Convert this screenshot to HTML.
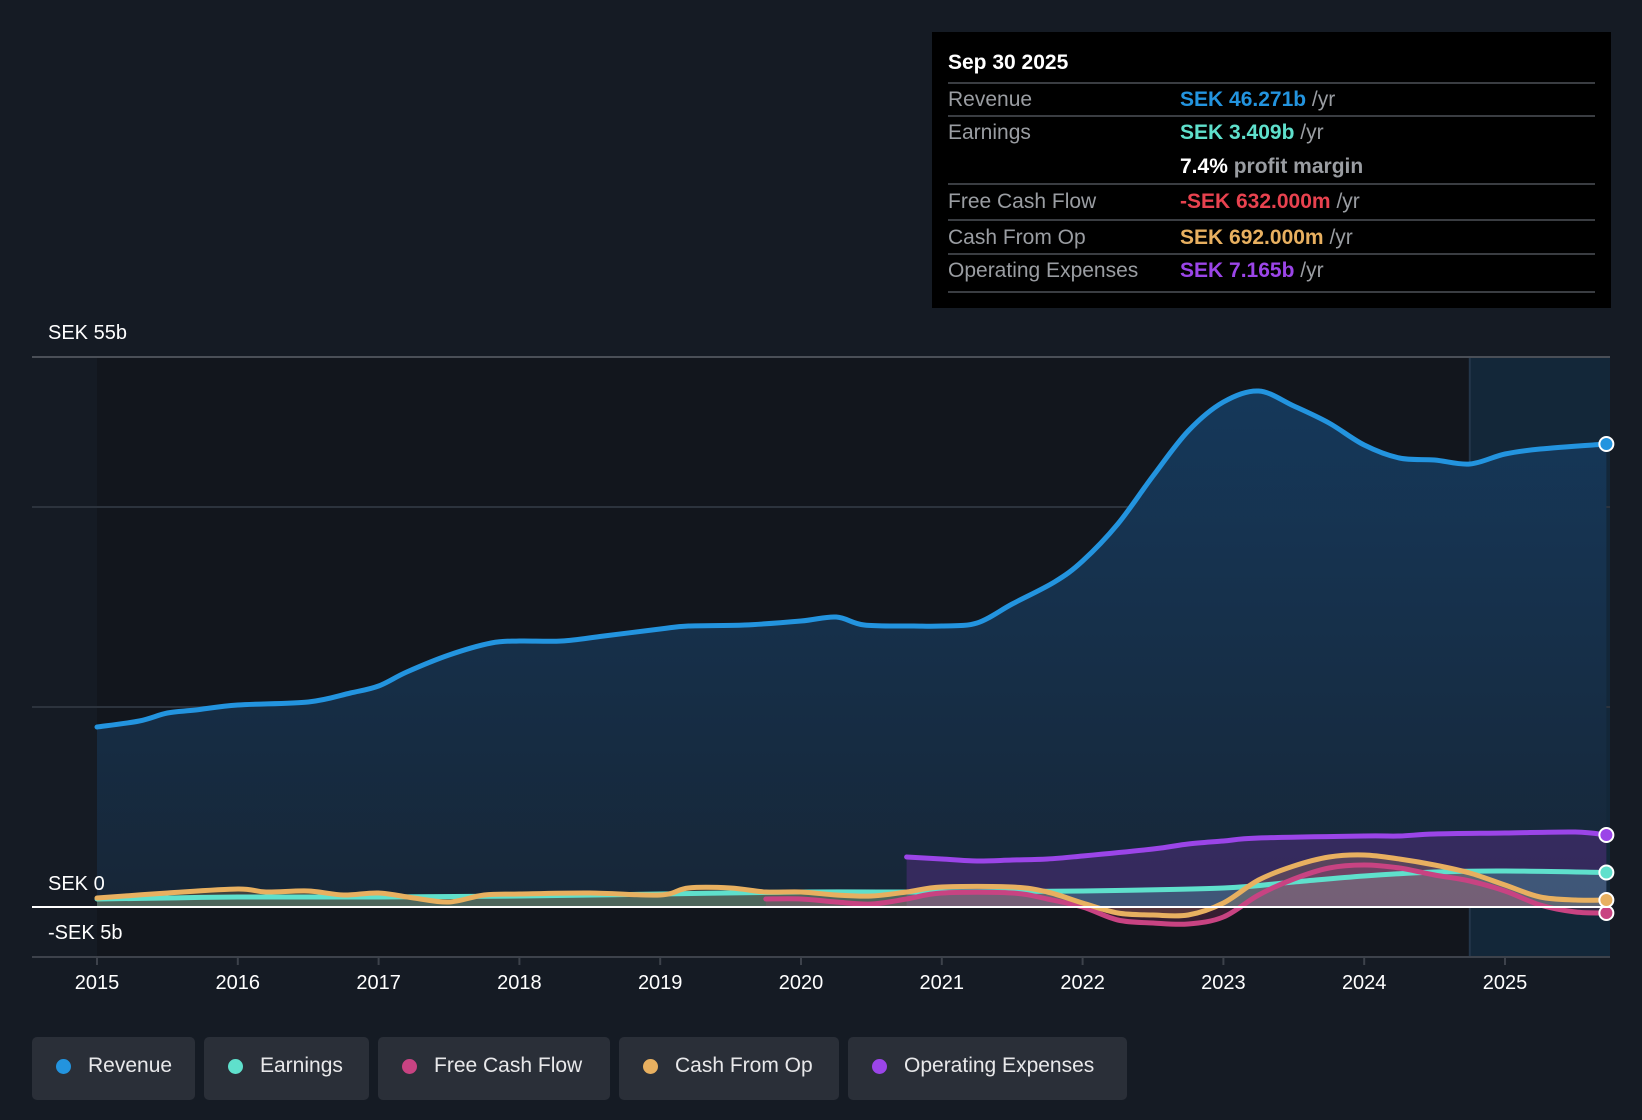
<!DOCTYPE html>
<html><head><meta charset="utf-8"><style>
html,body{margin:0;padding:0;background:#151b24;}
body{width:1642px;height:1120px;overflow:hidden;position:relative;font-family:"Liberation Sans",sans-serif;}
svg{position:absolute;left:0;top:0}
.tip{position:absolute;left:932px;top:32px;width:679px;height:276px;background:#000;}
.tip .row{position:absolute;left:16px;width:647px;border-top:2px solid #3a3d42;font-size:21px;color:#9a9da2;}
.lg{position:absolute;top:1037px;height:63px;background:#2a2f38;border-radius:5px;color:#e8e8ea;font-size:21px;line-height:58px;box-sizing:border-box;padding-left:56px}
.lg i{position:absolute;left:24px;top:22px;width:15px;height:15px;border-radius:50%}
</style></head><body>
<svg width="1642" height="1120" id="chart"></svg>
<div class="tip">
 <div style="position:absolute;left:16px;top:19px;color:#fff;font-size:21px;font-weight:bold">Sep 30 2025</div>
 <div class="row" style="top:50px;height:32px;line-height:32px"><span style="position:absolute;left:0">Revenue</span><span style="position:absolute;left:232px;color:#2394df;font-weight:bold">SEK 46.271b <span style="color:#9a9da2;font-weight:normal">/yr</span></span></div>
 <div class="row" style="top:83px;height:66px;line-height:32px"><span style="position:absolute;left:0">Earnings</span><span style="position:absolute;left:232px;color:#5fe0cc;font-weight:bold">SEK 3.409b <span style="color:#9a9da2;font-weight:normal">/yr</span></span><span style="position:absolute;left:232px;top:34px;color:#fff;font-weight:bold">7.4% <span style="color:#9a9da2">profit margin</span></span></div>
 <div class="row" style="top:151px;height:34px;line-height:34px"><span style="position:absolute;left:0">Free Cash Flow</span><span style="position:absolute;left:232px;color:#e8424f;font-weight:bold">-SEK 632.000m <span style="color:#9a9da2;font-weight:normal">/yr</span></span></div>
 <div class="row" style="top:187px;height:32px;line-height:34px"><span style="position:absolute;left:0">Cash From Op</span><span style="position:absolute;left:232px;color:#e8b060;font-weight:bold">SEK 692.000m <span style="color:#9a9da2;font-weight:normal">/yr</span></span></div>
 <div class="row" style="top:221px;height:36px;line-height:32px;border-bottom:2px solid #3a3d42"><span style="position:absolute;left:0">Operating Expenses</span><span style="position:absolute;left:232px;color:#9b45e8;font-weight:bold">SEK 7.165b <span style="color:#9a9da2;font-weight:normal">/yr</span></span></div>
</div>
<div class="lg" style="left:32px;width:163px"><i style="background:#2394df"></i>Revenue</div>
<div class="lg" style="left:204px;width:165px"><i style="background:#5fe0cc"></i>Earnings</div>
<div class="lg" style="left:378px;width:232px"><i style="background:#c84382"></i>Free Cash Flow</div>
<div class="lg" style="left:619px;width:220px"><i style="background:#e8b060"></i>Cash From Op</div>
<div class="lg" style="left:848px;width:279px"><i style="background:#9b45e8"></i>Operating Expenses</div>
<script>
const revX=[2015,2015.3,2015.5,2015.7,2016,2016.5,2016.8,2017,2017.2,2017.5,2017.8,2018,2018.3,2018.6,2019,2019.2,2019.6,2020,2020.25,2020.45,2020.8,2021,2021.25,2021.5,2021.8,2022,2022.25,2022.5,2022.75,2023,2023.25,2023.5,2023.75,2024,2024.25,2024.5,2024.75,2025,2025.25,2025.72];
const revY=[18.0,18.6,19.4,19.7,20.2,20.5,21.4,22.1,23.5,25.2,26.4,26.6,26.6,27.1,27.8,28.1,28.2,28.6,29.0,28.2,28.1,28.1,28.4,30.3,32.5,34.6,38.3,43.1,47.6,50.5,51.6,50.1,48.4,46.2,44.9,44.7,44.3,45.3,45.8,46.3];
const earnX=[2015,2015.5,2016,2017,2018,2019,2020,2021,2022,2023,2023.5,2024,2024.5,2025,2025.72];
const earnY=[0.8,0.9,1.0,1.0,1.1,1.3,1.5,1.5,1.6,1.9,2.5,3.1,3.5,3.6,3.45];
const cfoX=[2015,2015.5,2016,2016.2,2016.5,2016.75,2017,2017.25,2017.5,2017.75,2018,2018.5,2019,2019.2,2019.5,2019.75,2020,2020.25,2020.5,2020.75,2021,2021.5,2021.75,2022,2022.25,2022.5,2022.75,2023,2023.25,2023.5,2023.75,2024,2024.25,2024.5,2024.75,2025,2025.25,2025.5,2025.72];
const cfoY=[0.9,1.4,1.8,1.5,1.6,1.2,1.4,0.9,0.5,1.2,1.3,1.4,1.2,1.9,1.9,1.5,1.5,1.2,1.1,1.5,2.0,2.0,1.5,0.4,-0.6,-0.8,-0.8,0.4,2.7,4.1,5.0,5.2,4.8,4.2,3.4,2.2,1.0,0.7,0.7];
const fcfX=[2019.75,2020,2020.25,2020.5,2020.75,2021,2021.5,2021.75,2022,2022.25,2022.5,2022.75,2023,2023.25,2023.5,2023.75,2024,2024.25,2024.5,2024.75,2025,2025.25,2025.5,2025.72];
const fcfY=[0.8,0.8,0.5,0.3,0.8,1.4,1.4,0.8,0,-1.3,-1.6,-1.7,-1.0,1.2,2.8,3.9,4.2,3.9,3.2,2.6,1.6,0.2,-0.5,-0.6];
const opxX=[2020.75,2021,2021.25,2021.5,2021.75,2022,2022.5,2022.75,2023,2023.25,2024,2024.25,2024.5,2025,2025.5,2025.72];
const opxY=[5.0,4.8,4.6,4.7,4.8,5.1,5.8,6.3,6.6,6.9,7.1,7.1,7.3,7.4,7.5,7.2];
const yTicks=[55,0,-5];const yTickLabels=["SEK 55b","SEK 0","-SEK 5b"];
const grid=[55,40,20];
const years=[2015,2016,2017,2018,2019,2020,2021,2022,2023,2024,2025];

const X=t=>97+(t-2015)*140.8, Y=v=>907-v*10;
const NS='http://www.w3.org/2000/svg', svg=document.getElementById('chart');
function mk(tag,a,parent){const e=document.createElementNS(NS,tag);for(const k in a)e.setAttribute(k,a[k]);(parent||svg).appendChild(e);return e;}
function path(xs,ys){const p=xs.map((x,i)=>[X(x),Y(ys[i])]);let d='M'+p[0][0]+','+p[0][1];
 for(let i=0;i<p.length-1;i++){const p0=p[i-1]||p[i],p1=p[i],p2=p[i+1],p3=p[i+2]||p2;
 d+=' C'+(p1[0]+(p2[0]-p0[0])/6)+','+(p1[1]+(p2[1]-p0[1])/6)+' '+(p2[0]-(p3[0]-p1[0])/6)+','+(p2[1]-(p3[1]-p1[1])/6)+' '+p2[0]+','+p2[1];}return d;}
const defs=mk('defs',{});
defs.innerHTML='<linearGradient id="rg" x1="0" y1="0" x2="0" y2="1"><stop offset="0" stop-color="#15385a"/><stop offset="1" stop-color="#172637"/></linearGradient>';
const xEnd=1610;
const bg=mk('rect',{x:X(2015),y:357,width:xEnd-X(2015),height:600,fill:'#12161d'});

const fc=mk('rect',{x:X(2024.75),y:357,width:xEnd-X(2024.75),height:600,fill:'#142a3e',opacity:0.85});

mk('line',{x1:X(2024.75),x2:X(2024.75),y1:357,y2:957,stroke:'#23364a','stroke-width':2});
grid.forEach(g=>{const l=mk('line',{x1:32,x2:1610,y1:Y(g),y2:Y(g),stroke:g==55?'#4a4f57':'#2c333d','stroke-width':2});
});
function area(xs,ys,fill,op,name){const a=mk('path',{d:path(xs,ys)+' L'+X(xs[xs.length-1])+','+Y(0)+' L'+X(xs[0])+','+Y(0)+'Z',fill:fill,opacity:op});
}
area(revX,revY,'url(#rg)',1,'revenue-area');
area(opxX,opxY,'#5b2f8a',0.45,'opex-area');
area(earnX,earnY,'#5fe0cc',0.25,'earnings-area');
area(cfoX,cfoY,'#e8b060',0.2,'cfo-area');
area(fcfX,fcfY,'#c84382',0.2,'fcf-area');
function line(xs,ys,c,name){const l=mk('path',{d:path(xs,ys),fill:'none',stroke:c,'stroke-width':5,'stroke-linecap':'round'});

const d=mk('circle',{cx:X(xs[xs.length-1]),cy:Y(ys[ys.length-1]),r:7,fill:c,stroke:'#fff','stroke-width':2});
}
line(opxX,opxY,'#9b45e8','opex-line');
line(earnX,earnY,'#5fe0cc','earnings-line');
line(fcfX,fcfY,'#c84382','fcf-line');
line(cfoX,cfoY,'#e8b060','cfo-line');
line(revX,revY,'#2394df','revenue-line');
const z=mk('line',{x1:32,x2:1610,y1:Y(0),y2:Y(0),stroke:'#fff','stroke-width':2});

mk('line',{x1:32,x2:1610,y1:957,y2:957,stroke:'#3d424b','stroke-width':2});
yTicks.forEach((v,i)=>{const yy=v==55?332:v==0?883:932;const t=mk('text',{x:48,y:yy+7,fill:'#fff','font-size':20});t.textContent=yTickLabels[i];
});
years.forEach(yr=>{mk('line',{x1:X(yr),x2:X(yr),y1:957,y2:965,stroke:'#3d424b','stroke-width':2});
const t=mk('text',{x:X(yr),y:989,fill:'#fff','font-size':20,'text-anchor':'middle'});t.textContent=yr;
});
</script>
</body></html>
